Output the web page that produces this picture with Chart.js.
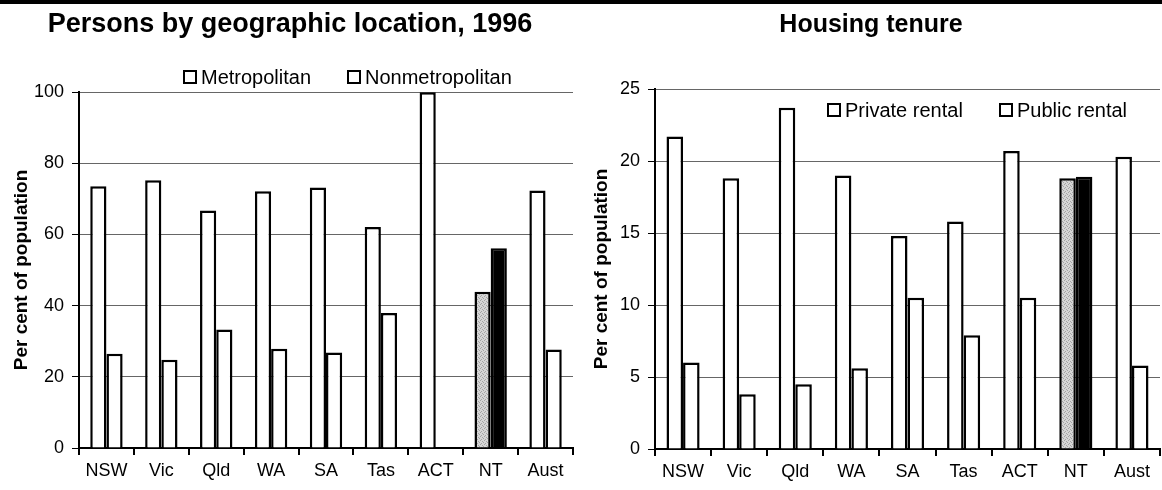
<!DOCTYPE html>
<html>
<head>
<meta charset="utf-8">
<script src="https://cdn.jsdelivr.net/npm/chart.js@4.4.1/dist/chart.umd.min.js"></script>
<style>
  html, body { margin: 0; padding: 0; background: #fff; }
  #wrap { position: relative; width: 1162px; height: 490px; overflow: hidden; }
  #topline { position: absolute; left: 0; top: 0; width: 1162px; height: 4px; background: #000; }
  .panel { position: absolute; top: 0; height: 490px; }
  #left { left: 0; width: 580px; }
  #right { left: 580px; width: 582px; }
</style>
</head>
<body>
<div id="wrap">
  <div class="panel" id="left"><canvas id="geoChart" width="580" height="490"></canvas></div>
  <div class="panel" id="right"><canvas id="tenureChart" width="582" height="490"></canvas></div>
  <div id="topline"></div>
</div>
<script>
// data
const states = ["NSW", "Vic", "Qld", "WA", "SA", "Tas", "ACT", "NT", "Aust"];
const metropolitan = [73.5, 75.2, 66.7, 72.1, 73.2, 62.1, 99.9, 43.9, 72.3];
const nonmetropolitan = [26.5, 24.8, 33.3, 27.9, 26.8, 37.9, 0.1, 56.1, 27.7];
const privateRental = [21.7, 18.8, 23.7, 19.0, 14.8, 15.8, 20.7, 18.8, 20.3];
const publicRental = [6.0, 3.8, 4.5, 5.6, 10.5, 7.9, 10.5, 18.9, 5.8];
const geoTicks = [0, 20, 40, 60, 80, 100];
const tenureTicks = [0, 5, 10, 15, 20, 25];

const FONT = "'Liberation Sans', Arial, sans-serif";

// light grey dotted fill used for the NT bar
function dotPattern(ctx) {
  const c = document.createElement("canvas");
  c.width = 4; c.height = 4;
  const g = c.getContext("2d");
  g.fillStyle = "#d6d6d6";
  g.fillRect(0, 0, 4, 4);
  g.fillStyle = "#a4a4a4";
  g.fillRect(0, 0, 1, 1);
  g.fillRect(2, 1, 1, 1);
  g.fillRect(1, 3, 1, 1);
  g.fillRect(3, 2, 1, 1);
  return ctx.createPattern(c, "repeat");
}

// legend with hollow square boxes, drawn where we want it
const boxLegend = {
  id: "boxLegend",
  afterDraw(chart, args, opts) {
    const ctx = chart.ctx;
    ctx.save();
    ctx.font = "20px " + FONT;
    ctx.textBaseline = "middle";
    let x = opts.x;
    chart.data.datasets.forEach(ds => {
      ctx.fillStyle = "#fff";
      ctx.fillRect(x, opts.y - 6, 12, 12);
      ctx.lineWidth = 2;
      ctx.strokeStyle = "#000";
      ctx.strokeRect(x, opts.y - 6, 12, 12);
      ctx.fillStyle = "#000";
      ctx.fillText(ds.label, x + 17, opts.y + 1);
      x += opts.step;
    });
    ctx.restore();
  }
};

function buildChart(id, cfg) {
  const ctx = document.getElementById(id).getContext("2d");
  const pat = dotPattern(ctx);
  const fillA = states.map(s => s === "NT" ? pat : "#fff");
  const fillB = states.map(s => s === "NT" ? "#000" : "#fff");
  const lh = cfg.titleSize * 1.2;

  return new Chart(ctx, {
    type: "bar",
    data: {
      labels: states,
      datasets: [
        { label: cfg.labels[0], data: cfg.series[0], backgroundColor: fillA,
          borderColor: "#000", borderWidth: 2.5,
          categoryPercentage: 0.59, barPercentage: 1.0 },
        { label: cfg.labels[1], data: cfg.series[1], backgroundColor: fillB,
          borderColor: "#000", borderWidth: 2.5,
          categoryPercentage: 0.59, barPercentage: 1.0 }
      ]
    },
    options: {
      responsive: false,
      animation: false,
      devicePixelRatio: 1,
      layout: { padding: 0 },
      plugins: {
        legend: { display: false },
        tooltip: { enabled: false },
        title: {
          display: true,
          text: cfg.title,
          color: "#000",
          font: { family: FONT, size: cfg.titleSize, weight: "bold" },
          padding: { top: cfg.titleY - lh / 2, bottom: cfg.plotTop - cfg.titleY - lh / 2 }
        },
        boxLegend: cfg.legend
      },
      scales: {
        x: {
          grid: { drawOnChartArea: false, offset: true, drawTicks: true, tickLength: 7,
                  color: "#000", lineWidth: 2 },
          border: { color: "#000", width: 2 },
          ticks: { color: "#000", font: { family: FONT, size: 18 }, padding: 5,
                   maxRotation: 0, autoSkip: false },
          afterFit: s => { s.height = 490 - cfg.plotBottom; }
        },
        y: {
          min: 0,
          max: cfg.ticks[cfg.ticks.length - 1],
          afterBuildTicks: s => { s.ticks = cfg.ticks.map(v => ({ value: v })); },
          grid: { color: "#666", lineWidth: 1, tickColor: "#000", tickLength: 7 },
          border: { color: "#000", width: 2 },
          ticks: { color: "#000", font: { family: FONT, size: 18 }, padding: 8 },
          title: {
            display: true,
            text: "Per cent of population",
            color: "#000",
            font: { family: FONT, size: 19, weight: "bold" },
            padding: { top: 10, bottom: 0 }
          },
          afterFit: s => { s.width = cfg.axisX; }
        },
        // empty axis that only keeps room on the right of the plot
        spacer: {
          type: "linear",
          position: "right",
          grid: { display: false },
          border: { display: false },
          ticks: { display: false },
          afterFit: s => { s.width = cfg.rightGap; }
        }
      }
    },
    plugins: [boxLegend]
  });
}

buildChart("geoChart", {
  title: "Persons by geographic location, 1996",
  titleSize: 27,
  titleY: 25,
  labels: ["Metropolitan", "Nonmetropolitan"],
  series: [metropolitan, nonmetropolitan],
  ticks: geoTicks,
  axisX: 79,
  rightGap: 7,
  plotTop: 92,
  plotBottom: 448,
  legend: { x: 184, y: 77, step: 164 }
});

buildChart("tenureChart", {
  title: "Housing tenure",
  titleSize: 25,
  titleY: 25,
  labels: ["Private rental", "Public rental"],
  series: [privateRental, publicRental],
  ticks: tenureTicks,
  axisX: 75,
  rightGap: 2,
  plotTop: 89,
  plotBottom: 449,
  legend: { x: 248, y: 110, step: 172 }
});
</script>
</body>
</html>
